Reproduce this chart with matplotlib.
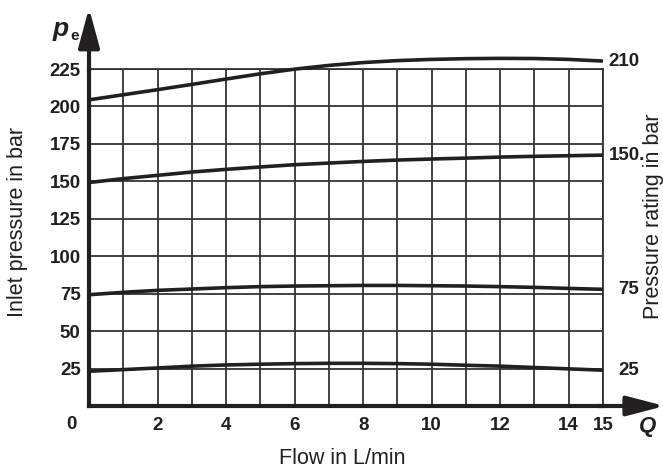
import matplotlib
matplotlib.use('Agg')
import matplotlib.pyplot as plt

plt.rcParams['font.family'] = ['Liberation Sans', 'DejaVu Sans']

# values (one reading per L/min)
flow = list(range(0, 16))
p_210 = [204.4, 207.8, 211.2, 214.7, 218.3, 221.8, 224.9, 227.4,
         229.3, 230.6, 231.4, 231.9, 232.1, 232.0, 231.4, 230.3]
p_150 = [149.2, 151.8, 154.0, 156.2, 158.0, 159.6, 161.1, 162.2,
         163.3, 164.2, 164.9, 165.5, 166.2, 166.7, 167.1, 167.5]
p_75 = [74.3, 75.9, 77.2, 78.1, 79.0, 79.7, 80.1, 80.3,
        80.5, 80.5, 80.3, 80.1, 79.7, 79.2, 78.5, 77.9]
p_25 = [23.2, 24.3, 25.4, 26.6, 27.4, 27.9, 28.3, 28.5,
        28.5, 28.3, 27.9, 27.2, 26.6, 25.7, 24.8, 23.9]
curves = [p_210, p_150, p_75, p_25]
curve_labels = ['210', '150.', '75', '25']
label_offsets = [4, 4, 11, 11]

x_ticks = [2, 4, 6, 8, 10, 12, 14, 15]
y_ticks = [25, 50, 75, 100, 125, 150, 175, 200, 225]

ink = '#231f20'
grid_c = '#333333'

fig = plt.figure(figsize=(6.63, 4.70), dpi=100)
ax = fig.add_axes([89/663, 1 - 406/470, (603 - 89)/663, (406 - 69)/470])

ax.set_xlim(0, 15)
ax.set_ylim(0, 225)

ax.set_xticks(x_ticks)
ax.set_xticks(range(1, 16), minor=True)
ax.set_yticks(y_ticks)
ax.tick_params(axis='both', which='both', length=0)
ax.tick_params(axis='x', pad=8)
ax.tick_params(axis='y', pad=6)
for lab in ax.get_xticklabels() + ax.get_yticklabels():
    lab.set_fontweight('bold')
    lab.set_fontsize(13.5)
    lab.set_color(ink)

ax.grid(True, which='both', color=grid_c, lw=1.3)
ax.set_axisbelow(True)

for s in ['top', 'right']:
    ax.spines[s].set_color(grid_c)
    ax.spines[s].set_linewidth(1.3)
for s in ['left', 'bottom']:
    ax.spines[s].set_color(ink)
    ax.spines[s].set_linewidth(3)

# curves
for vals, lab, off in zip(curves, curve_labels, label_offsets):
    ax.plot(flow, vals, color=ink, lw=2.6, clip_on=False, zorder=5,
            solid_capstyle='butt', solid_joinstyle='round')
    ax.annotate(lab, xy=(15, vals[-1]), xytext=(off, 0), textcoords='offset points',
                ha='left', va='center', fontsize=13.5, fontweight='bold', color=ink,
                annotation_clip=False)

# axis arrows
ax.annotate('', xy=(0, 1.181), xytext=(0, 0.99), xycoords='axes fraction',
            arrowprops=dict(arrowstyle='-|>,head_length=2.4,head_width=0.65',
                            color=ink, lw=3, shrinkA=0, shrinkB=0), annotation_clip=False)
ax.annotate('', xy=(1.12, 0), xytext=(0.99, 0), xycoords='axes fraction',
            arrowprops=dict(arrowstyle='-|>,head_length=2.3,head_width=0.6',
                            color=ink, lw=3, shrinkA=0, shrinkB=0), annotation_clip=False)

# corner zero
ax.text(-0.5, -0.056, '0', transform=ax.get_xaxis_transform(), ha='center', va='center',
        fontsize=13.5, fontweight='bold', color=ink)

# axis symbols
fig.text(69/663, 1 - 36/470, 'p', ha='right', va='baseline', fontsize=19,
         fontweight='bold', fontstyle='italic', color=ink)
fig.text(70/663, 1 - 40/470, 'e', ha='left', va='baseline', fontsize=11,
         fontweight='bold', color=ink)
fig.text(648/663, 1 - 432/470, 'Q', ha='center', va='baseline', fontsize=16,
         fontweight='bold', fontstyle='italic', color=ink)

# axis titles
fig.text(18/663, 1 - 222/470, 'Inlet pressure in bar', rotation=90, ha='center',
         va='center', fontsize=15.5, color=ink)
fig.text(654/663, 1 - 216/470, 'Pressure rating in bar', rotation=90, ha='center',
         va='center', fontsize=15.5, color=ink)
fig.text(342/663, 6/470, 'Flow in L/min', ha='center', va='baseline', fontsize=15.5,
         color=ink)

fig.savefig('out.png', dpi=100)
